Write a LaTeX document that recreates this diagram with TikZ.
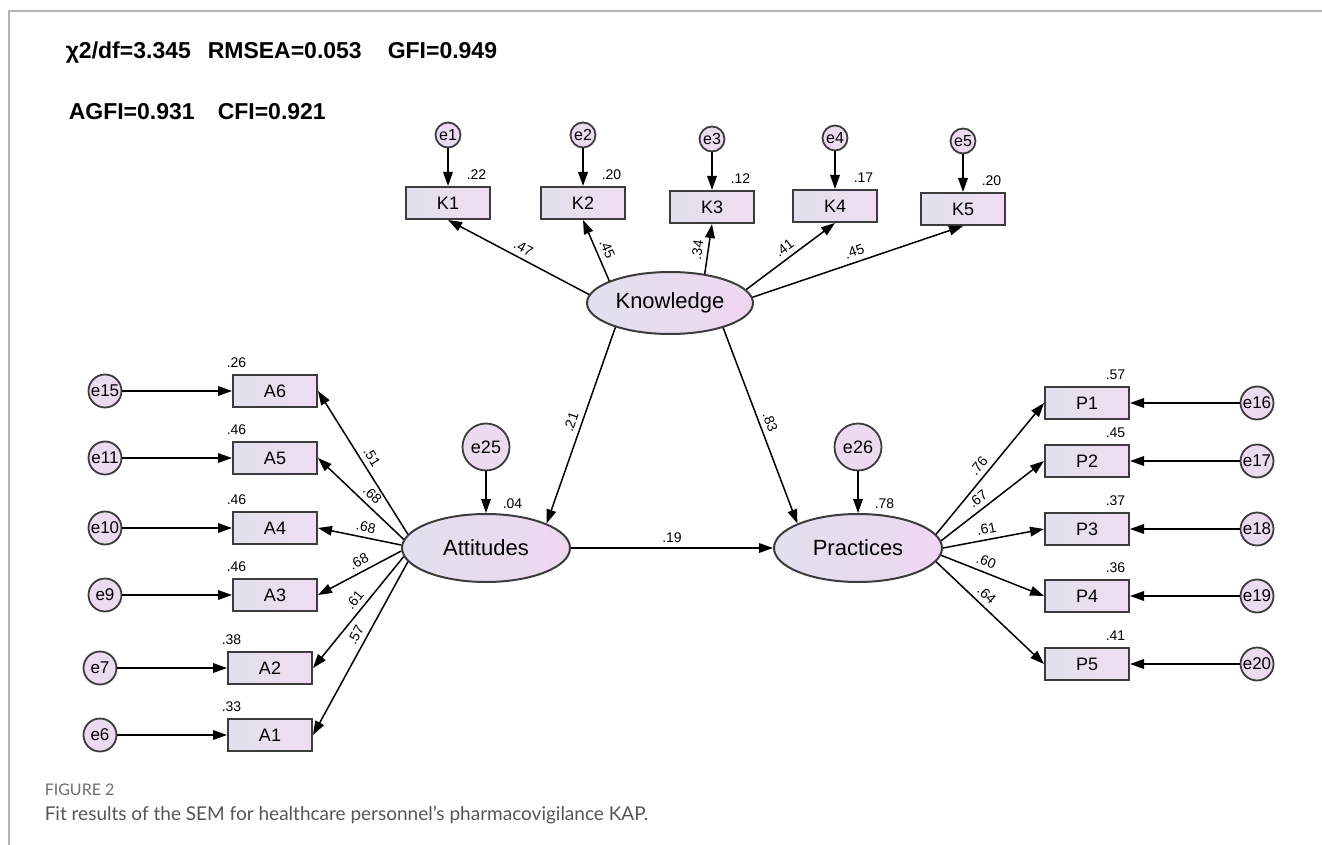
\documentclass[tikz,border=0pt]{standalone}
\usepackage{fontspec}
\setmainfont{Liberation Sans}
\newfontfamily\captionfont{Lato}
\usepackage{tikz}
\usetikzlibrary{arrows.meta, positioning, shapes.geometric}

\definecolor{edgegray}{HTML}{3C3C3C}
\definecolor{boxleft}{HTML}{DFE1EC}
\definecolor{boxright}{HTML}{F1DCF2}
\definecolor{latleft}{HTML}{E0E1EE}
\definecolor{latright}{HTML}{EFD6F0}
\definecolor{errfill}{HTML}{ECDAF0}
\definecolor{framegray}{HTML}{B4B4B4}
\definecolor{capgray}{HTML}{555555}

\begin{document}
\begin{tikzpicture}[
            x = 0.5pt, y = -0.5pt, % one unit = one pixel of the figure
            > = {Triangle[length=7pt, width=4.8pt]}, % arrow head style
            line width = 0.75pt % line style
        ]

        \tikzstyle{observed}=[
            rectangle,
            draw = edgegray,
            line width = 1pt,
            left color = boxleft,
            right color = boxright,
            minimum width = 42pt,
            minimum height = 16pt,
            font = \fontsize{9}{9}\selectfont
        ]
        \tikzstyle{latent}=[
            ellipse,
            draw = edgegray,
            line width = 1pt,
            left color = latleft,
            right color = latright,
            inner sep = 0pt,
            minimum width = 84pt,
            minimum height = 34pt,
            font = \fontsize{11}{11}\selectfont
        ]
        \tikzstyle{error}=[
            circle,
            draw = edgegray,
            line width = 0.9pt,
            fill = errfill,
            inner sep = 0pt,
            minimum size = 16.5pt,
            font = \fontsize{8.5}{8.5}\selectfont
        ]
        \tikzstyle{smallerror}=[error, minimum size = 12.5pt, font = \fontsize{8}{8}\selectfont]
        \tikzstyle{bigerror}=[error, minimum size = 23.5pt, font = \fontsize{9}{9}\selectfont]
        \tikzstyle{coef}=[font = \fontsize{7}{7}\selectfont, inner sep = 1pt]
        \tikzstyle{loading}=[coef, sloped, above = 1.5pt]
        \tikzstyle{fitindex}=[font = \fontsize{11.5}{11.5}\selectfont\bfseries, anchor = base west, inner sep = 0pt]

        \useasboundingbox (0,0) rectangle (1322,845);
        \draw[framegray, line width = 0.8pt] (9,845) -- (9,11) -- (1322,11);

        % fit indices
        \node[fitindex] (chi) at (65,59) {χ2/df=3.345};
        \node[fitindex] (rmsea) at (207,59) {RMSEA=0.053};
        \node[fitindex] (gfi) at (387,59) {GFI=0.949};
        \node[fitindex] (agfi) at (68,120) {AGFI=0.931};
        \node[fitindex] (cfi) at (217,120) {CFI=0.921};

        % latent variables
        \node[latent, minimum width = 83pt, minimum height = 31pt] (know) at (670,303) {Knowledge};
        \node[latent] (att) at (486,548) {Attitudes};
        \node[latent] (prac) at (858,548) {Practices};
        \node[bigerror] (e25) [above of=att, node distance=50.5pt] {e25};
        \node[bigerror] (e26) [above of=prac, node distance=50.5pt] {e26};

        % knowledge items
        \node[observed] (K1) at (448,203) {K1};
        \node[observed] (K2) at (583,203) {K2};
        \node[observed] (K3) at (712,207) {K3};
        \node[observed] (K4) at (835,206) {K4};
        \node[observed] (K5) at (963,209) {K5};
        \node[smallerror] (e1) [above of=K1, node distance=34pt] {e1};
        \node[smallerror] (e2) [above of=K2, node distance=34pt] {e2};
        \node[smallerror] (e3) [above of=K3, node distance=34pt] {e3};
        \node[smallerror] (e4) [above of=K4, node distance=34pt] {e4};
        \node[smallerror] (e5) [above of=K5, node distance=34pt] {e5};

        % attitude items
        \node[observed] (A6) at (275,391) {A6};
        \node[observed] (A5) at (275,458) {A5};
        \node[observed] (A4) at (275,528) {A4};
        \node[observed] (A3) at (275,595) {A3};
        \node[observed] (A2) at (270,668) {A2};
        \node[observed] (A1) at (270,735) {A1};
        \node[error] (e15) [left of=A6, node distance=85pt] {e15};
        \node[error] (e11) [left of=A5, node distance=85pt] {e11};
        \node[error] (e10) [left of=A4, node distance=85pt] {e10};
        \node[error] (e9) [left of=A3, node distance=85pt] {e9};
        \node[error] (e7) [left of=A2, node distance=85pt] {e7};
        \node[error] (e6) [left of=A1, node distance=85pt] {e6};

        % practice items
        \node[observed] (P1) at (1087,403) {P1};
        \node[observed] (P2) at (1087,461) {P2};
        \node[observed] (P3) at (1087,529) {P3};
        \node[observed] (P4) at (1087,596) {P4};
        \node[observed] (P5) at (1087,664) {P5};
        \node[error] (e16) [right of=P1, node distance=85pt] {e16};
        \node[error] (e17) [right of=P2, node distance=85pt] {e17};
        \node[error] (e18) [right of=P3, node distance=85pt] {e18};
        \node[error] (e19) [right of=P4, node distance=85pt] {e19};
        \node[error] (e20) [right of=P5, node distance=85pt] {e20};

        % squared multiple correlations
        \node[coef, anchor=south east] (r1) at ([xshift=-1pt, yshift=2pt]K1.north east) {.22};
        \node[coef, anchor=south east] (r2) at ([xshift=-1pt, yshift=2pt]K2.north east) {.20};
        \node[coef, anchor=south east] (r3) at ([xshift=-1pt, yshift=2pt]K3.north east) {.12};
        \node[coef, anchor=south east] (r4) at ([xshift=-1pt, yshift=2pt]K4.north east) {.17};
        \node[coef, anchor=south east] (r5) at ([xshift=-1pt, yshift=2pt]K5.north east) {.20};
        \node[coef, anchor=south west] (r15) at ([xshift=-4pt, yshift=2pt]A6.north west) {.26};
        \node[coef, anchor=south west] (r11) at ([xshift=-4pt, yshift=2pt]A5.north west) {.46};
        \node[coef, anchor=south west] (r10) at ([xshift=-4pt, yshift=2pt]A4.north west) {.46};
        \node[coef, anchor=south west] (r9) at ([xshift=-4pt, yshift=2pt]A3.north west) {.46};
        \node[coef, anchor=south west] (r7) at ([xshift=-4pt, yshift=2pt]A2.north west) {.38};
        \node[coef, anchor=south west] (r6) at ([xshift=-4pt, yshift=2pt]A1.north west) {.33};
        \node[coef, anchor=south east] (r16) at ([xshift=-1pt, yshift=2pt]P1.north east) {.57};
        \node[coef, anchor=south east] (r17) at ([xshift=-1pt, yshift=2pt]P2.north east) {.45};
        \node[coef, anchor=south east] (r18) at ([xshift=-1pt, yshift=2pt]P3.north east) {.37};
        \node[coef, anchor=south east] (r19) at ([xshift=-1pt, yshift=2pt]P4.north east) {.36};
        \node[coef, anchor=south east] (r20) at ([xshift=-1pt, yshift=2pt]P5.north east) {.41};
        \node[coef, anchor=south west] (ratt) at ([xshift=7pt, yshift=1pt]att.north) {.04};
        \node[coef, anchor=south west] (rprac) at ([xshift=7pt, yshift=1pt]prac.north) {.78};

        % error terms
        \path[->] (e1) edge (K1) (e2) edge (K2) (e3) edge (K3) (e4) edge (K4) (e5) edge (K5);
        \path[->] (e15) edge (A6) (e11) edge (A5) (e10) edge (A4);
        \path[->] (e9) edge (A3) (e7) edge (A2) (e6) edge (A1);
        \path[->] (e16) edge (P1) (e17) edge (P2) (e18) edge (P3) (e19) edge (P4) (e20) edge (P5);
        \path[->] (e25) edge (att) (e26) edge (prac);

        % loadings
        \path[->] (know.174) edge node[loading] {.47} (K1.south);
        \path[->] (know.160) edge node[loading, pos=0.45] {.45} (K2.south);
        \path[->] (know.40) edge node[loading, pos=0.45] {.34} (K3.south);
        \path[->] (know.10) edge node[loading] {.41} (K4.south);
        \path[->] (know.4) edge node[loading] {.45} (K5.south);

        \path[->] (att.170) edge node[loading, pos=0.5] {.51} (A6.east);
        \path[->] (att.174) edge node[loading, pos=0.45] {.68} (A5.east);
        \path[->] (att.178) edge node[loading, pos=0.45] {.68} (A4.east);
        \path[->] (att.182) edge node[loading, pos=0.45] {.68} (A3.east);
        \path[->] (att.186) edge node[loading, pos=0.45] {.61} (A2.east);
        \path[->] (att.190) edge node[loading, pos=0.45] {.57} (A1.east);

        \path[->] (prac.10) edge node[loading, pos=0.47] {.76} (P1.west);
        \path[->] (prac.5) edge node[loading, pos=0.42] {.67} (P2.west);
        \path[->] (prac.0) edge node[loading, pos=0.45] {.61} (P3.west);
        \path[->] (prac.-5) edge node[loading, pos=0.4] {.60} (P4.west);
        \path[->] (prac.-10) edge node[loading, pos=0.4] {.64} (P5.west);

        % structural paths
        \path[->] (know.204) edge node[loading] {.21} (att.22);
        \path[->] (know.-25) edge node[loading] {.83} (prac.158);
        \path[->] (att) edge node[coef, above = 1.5pt] {.19} (prac);

        % caption
        \node[font = \captionfont\fontsize{8}{8}\selectfont, text = capgray!85, anchor = base west, inner sep = 0pt] (figno) at (44,795) {FIGURE 2};
        \node[font = \captionfont\fontsize{9.5}{9.5}\selectfont, text = capgray, anchor = base west, inner sep = 0pt] (caption) at (44,820) {Fit results of the SEM for healthcare personnel’s pharmacovigilance KAP.};

    \end{tikzpicture}
\end{document}
